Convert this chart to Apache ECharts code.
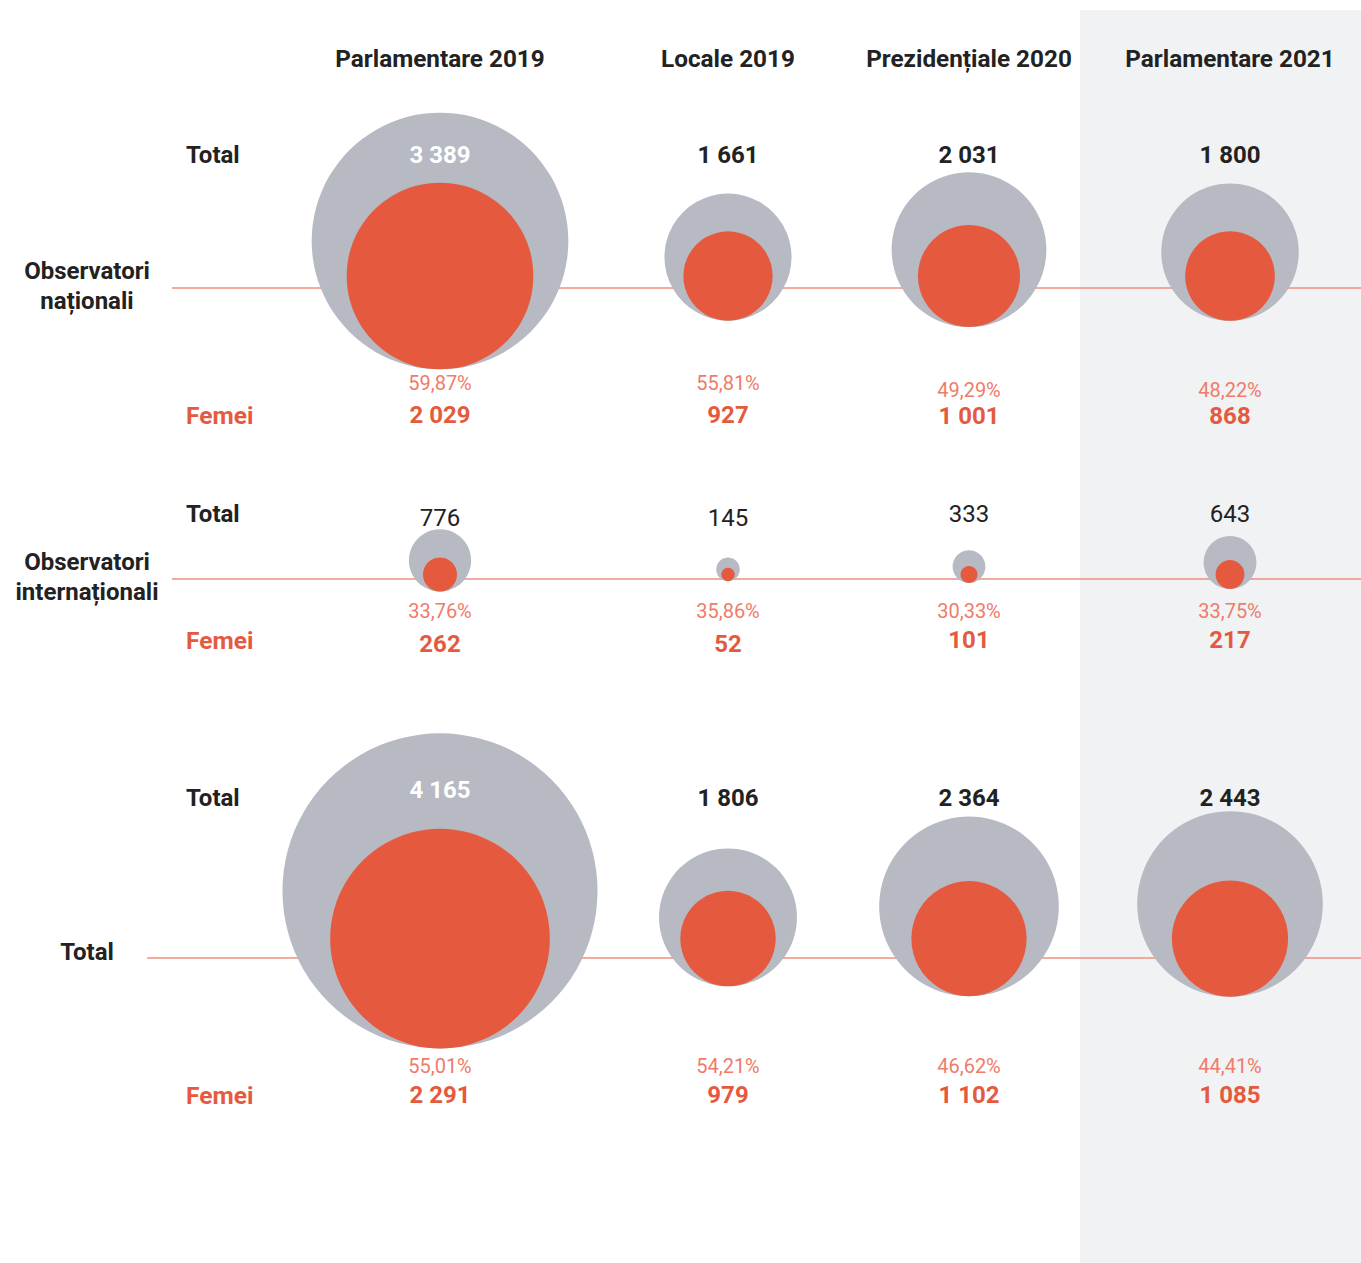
<!DOCTYPE html>
<html><head><meta charset="utf-8">
<script src="https://cdn.jsdelivr.net/npm/echarts@6/dist/echarts.min.js"></script>
<style>html,body{margin:0;padding:0;background:#fff}#c{width:1361px;height:1263px}</style>
</head><body><div id="c"></div>
<script>
// ---------- data ----------
const elections = ['Parlamentare 2019', 'Locale 2019', 'Prezidențiale 2020', 'Parlamentare 2021'];
const groups = ['Observatori\nnaționali', 'Observatori\ninternaționali', 'Total'];
const nationalTotal = [3389, 1661, 2031, 1800];
const nationalWomen = [2029, 927, 1001, 868];
const internationalTotal = [776, 145, 333, 643];
const internationalWomen = [262, 52, 101, 217];
const allTotal = [4165, 1806, 2364, 2443];
const allWomen = [2291, 979, 1102, 1085];
const totalLabel = 'Total';
const womenLabel = 'Femei';

// ---------- layout / style ----------
const FONT = 'Roboto, "Noto Sans", sans-serif';
const GRAY = '#b7b9c3', ORANGE = '#e55a3f', LINE = '#ee8f7e', PCT = '#ef7c69', DARK = '#222222';
const COL_X = [440, 728, 969, 1230];
const ROW_Y = [276, 574.5, 938.6];          // anchor row (centre of women circle)
const ROW_LINE_Y = [288, 579, 958];
const ROW_LINE_X0 = [172, 172, 147];
const GROUP_LABEL_Y = [286, 577, 952];
const TOTAL_TXT_Y = [155, 514, 798];
const FEMEI_TXT_Y = [415, 640, 1095];
const TOTAL_NUM_Y = [[155, 155, 155, 155], [518, 518, 514, 514], [790, 798, 798, 798]];
const PCT_Y = [[383, 383, 390, 390], [611, 611, 611, 611], [1066, 1066, 1066, 1066]];
const WOMEN_Y = [[415, 415, 416, 416], [644, 644, 640, 640], [1095, 1095, 1095, 1095]];
const TOTAL_WEIGHT = ['bold', 'normal', 'bold'];

const rowTotals = [nationalTotal, internationalTotal, allTotal];
const rowWomen = [nationalWomen, internationalWomen, allWomen];

// radius scale (px) – linear in value, with a small visibility floor
function radiusTotal(v) { const r = v / 26.5; return Math.sqrt(r * r + 10.5 * 10.5); }
function radiusWomen(w, t) { return radiusTotal(t) * Math.sqrt(w / t) * 0.94; }
function fmt(n) { return String(n).replace(/\B(?=(\d{3})+(?!\d))/g, ' '); }
function fmtPct(w, t) { return (w / t * 100).toFixed(2).replace('.', ',') + '%'; }

const grids = [], xAxes = [], yAxes = [], series = [];
let gi = 0;
for (let r = 0; r < 3; r++) {
  for (let c = 0; c < 4; c++) {
    grids.push({ left: COL_X[c] - 5, top: ROW_Y[r] - 5, width: 10, height: 10 });
    xAxes.push({ gridIndex: gi, type: 'category', data: [elections[c]], show: false });
    yAxes.push({ gridIndex: gi, type: 'category', data: [groups[r]], show: false });
    const row = r, col = c;
    series.push({
      type: 'custom',
      xAxisIndex: gi, yAxisIndex: gi,
      encode: { x: 0, y: 1 },
      data: [[elections[c], groups[r], rowTotals[r][c], rowWomen[r][c]]],
      renderItem: function (params, api) {
        const p = api.coord([api.value(0), api.value(1)]);
        const t = api.value(2), w = api.value(3);
        const rG = radiusTotal(t), rO = radiusWomen(w, t);
        const cyO = p[1], cyG = p[1] + rO - rG;
        const grayTop = cyG - rG;
        const ty = TOTAL_NUM_Y[row][col];
        const inside = ty > grayTop + 10;
        return {
          type: 'group',
          children: [
            { type: 'circle', shape: { cx: p[0], cy: cyG, r: rG }, style: { fill: GRAY } },
            { type: 'circle', shape: { cx: p[0], cy: cyO, r: rO }, style: { fill: ORANGE } },
            { type: 'text', style: { text: fmt(t), x: p[0], y: ty, align: 'center', verticalAlign: 'middle',
                fill: inside ? '#ffffff' : DARK, fontSize: 24, fontWeight: TOTAL_WEIGHT[row], fontFamily: FONT } },
            { type: 'text', style: { text: fmtPct(w, t), x: p[0], y: PCT_Y[row][col], align: 'center', verticalAlign: 'middle',
                fill: PCT, fontSize: 20, fontWeight: 'normal', fontFamily: FONT, lineHeight: 20 } },
            { type: 'text', style: { text: fmt(w), x: p[0], y: WOMEN_Y[row][col], align: 'center', verticalAlign: 'middle',
                fill: ORANGE, fontSize: 24, fontWeight: 'bold', fontFamily: FONT, lineHeight: 24 } }
          ]
        };
      }
    });
    gi++;
  }
}

const graphics = [
  { type: 'rect', z: -10, shape: { x: 1080, y: 10, width: 281, height: 1253 }, style: { fill: '#f1f2f4' } }
];
for (let r = 0; r < 3; r++) {
  graphics.push({ type: 'line', z: -5, shape: { x1: ROW_LINE_X0[r], y1: ROW_LINE_Y[r], x2: 1361, y2: ROW_LINE_Y[r] },
    style: { stroke: LINE, lineWidth: 1.3 } });
  graphics.push({ type: 'text', z: 5, style: { text: groups[r], x: 87, y: GROUP_LABEL_Y[r], align: 'center', verticalAlign: 'middle',
    fill: DARK, fontSize: 24, fontWeight: 'bold', fontFamily: FONT, lineHeight: 30 } });
  graphics.push({ type: 'text', z: 5, style: { text: totalLabel, x: 186, y: TOTAL_TXT_Y[r], align: 'left', verticalAlign: 'middle',
    fill: DARK, fontSize: 24, fontWeight: 'bold', fontFamily: FONT } });
  graphics.push({ type: 'text', z: 5, style: { text: womenLabel, x: 186, y: FEMEI_TXT_Y[r], align: 'left', verticalAlign: 'middle',
    fill: ORANGE, fontSize: 24.5, fontWeight: 'bold', fontFamily: FONT } });
}
for (let c = 0; c < 4; c++) {
  graphics.push({ type: 'text', z: 5, style: { text: elections[c], x: COL_X[c], y: 58, align: 'center', verticalAlign: 'middle',
    fill: DARK, fontSize: 24.3, fontWeight: 'bold', fontFamily: FONT } });
}

const chart = echarts.init(document.getElementById('c'), null, { renderer: 'svg' });
chart.setOption({
  backgroundColor: '#ffffff',
  animation: false,
  grid: grids, xAxis: xAxes, yAxis: yAxes,
  graphic: { elements: graphics },
  series: series
});
</script></body></html>
